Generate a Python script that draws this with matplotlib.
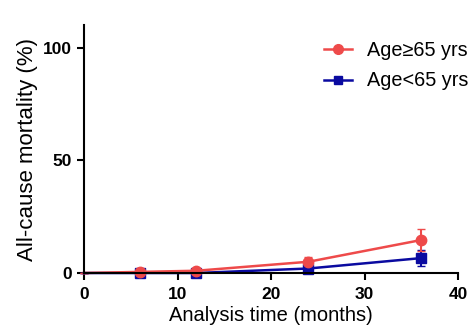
import matplotlib
matplotlib.use("Agg")
import matplotlib.pyplot as plt
from matplotlib.lines import Line2D

plt.rcParams['font.family'] = ['Liberation Sans', 'DejaVu Sans']

# time points (months)
months = [0, 6, 12, 24, 36]
# Age >= 65 yrs
old_mort = [0, 0.5, 1.0, 5.0, 14.6]
old_err = [0, 0.8, 0.8, 2.0, 5.0]
# Age < 65 yrs
young_mort = [0, 0, 0, 2.0, 6.6]
young_err = [0, 0.3, 0.3, 1.0, 3.6]

fig = plt.figure(figsize=(4.76, 3.34), dpi=100)
ax = fig.add_axes([0.1765, 0.1826, 0.786, 0.742])

red = "#ee4a4a"
blue = "#0a0aa0"

ax.errorbar(months, young_mort, yerr=young_err, color=blue, marker="s", markersize=6.5,
            markevery=[1, 2, 3, 4], linewidth=1.8, capsize=3, elinewidth=1.5, clip_on=False)
ax.errorbar(months, old_mort, yerr=old_err, color=red, marker="o", markersize=7.5,
            markevery=[1, 2, 3, 4], linewidth=1.8, capsize=3, elinewidth=1.5, clip_on=False)

ax.set_xlim(0, 40)
ax.set_ylim(0, 110)
ax.set_xticks([0, 10, 20, 30, 40])
ax.set_yticks([0, 50, 100])
ax.spines['top'].set_visible(False)
ax.spines['right'].set_visible(False)
ax.spines['left'].set_linewidth(1.5)
ax.spines['bottom'].set_linewidth(1.5)
ax.tick_params(width=1.5, length=5, labelsize=12.5)
ax.tick_params(axis="x", pad=5)
for lab in ax.get_xticklabels() + ax.get_yticklabels():
    lab.set_fontweight("bold")

ax.set_xlabel("Analysis time (months)", fontsize=14.5, labelpad=3)
ax.set_ylabel("All-cause mortality (%)", fontsize=16, labelpad=4)

handles = [Line2D([], [], color=red, marker="o", markersize=7, linewidth=1.8),
           Line2D([], [], color=blue, marker="s", markersize=6, linewidth=1.8)]
ax.legend(handles, ["Age\u226565 yrs", "Age<65 yrs"], loc="upper right", frameon=False,
          fontsize=14.3, bbox_to_anchor=(1.075, 1.01), handlelength=1.4,
          handletextpad=0.75, labelspacing=0.6)

plt.savefig("out.png", dpi=100)
